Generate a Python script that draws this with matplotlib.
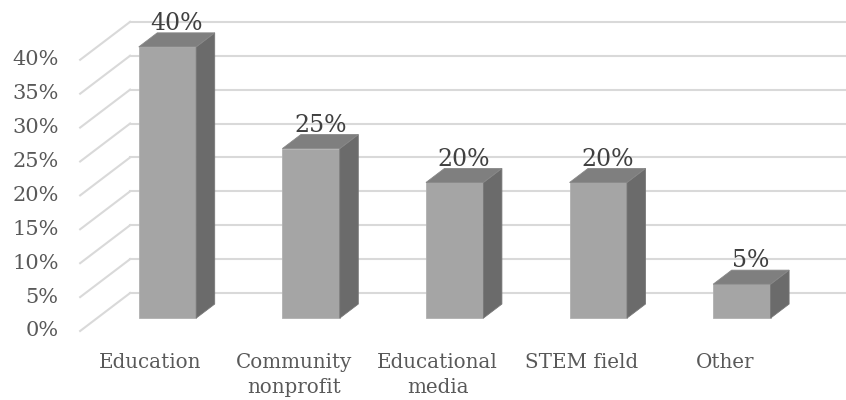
import numpy as np
import matplotlib.pyplot as plt
from matplotlib.patches import Polygon

categories = ['Education', 'Community\nnonprofit', 'Educational\nmedia', 'STEM field', 'Other']
values = [40, 25, 20, 20, 5]
ticks = [0, 5, 10, 15, 20, 25, 30, 35, 40]

# oblique 3d look: full depth shifts by (ddx categories, ddy percent)
ddx = 0.348
ddy = 5.6
d_front = 0.34
d_back = 0.71
half_w = 0.2
left = -0.49

face_c = '#A5A5A5'
side_c = '#6B6B6B'
top_c = '#7F7F7F'
grid_c = '#D9D9D9'
text_c = '#595959'

plt.rcParams['font.family'] = ['DejaVu Serif']

fig = plt.figure(figsize=(8.46, 4.0), dpi=100)
ax = fig.add_axes([0, 0, 1, 1])
ax.set_xlim((0 - 150.5) / 143.6, (846 - 150.5) / 143.6)
ax.set_ylim((331 - 400) / 6.78, 331 / 6.78)
ax.axis('off')

# walls: back gridlines and diagonal side lines
for t in ticks:
    ax.plot([left, left + ddx], [t, t + ddy], color=grid_c, lw=1.5, zorder=1)
    ax.plot([left + ddx, 10], [t + ddy, t + ddy], color=grid_c, lw=1.5, zorder=1)
    ax.text(left - 0.15, t, f'{t}%', ha='right', va='center',
            fontsize=15, color=text_c)


def bar3d(i, v):
    x0 = i - half_w + d_front * ddx
    x1 = i + half_w + d_front * ddx
    y0 = d_front * ddy
    y1 = v + d_front * ddy
    ox = (d_back - d_front) * ddx
    oy = (d_back - d_front) * ddy
    front = Polygon([(x0, y0), (x1, y0), (x1, y1), (x0, y1)], closed=True,
                    fc=face_c, ec='#B0B0B0', lw=0.6, zorder=3)
    side = Polygon([(x1, y0), (x1 + ox, y0 + oy), (x1 + ox, y1 + oy), (x1, y1)],
                   closed=True, fc=side_c, ec='#777777', lw=0.6, zorder=3)
    top = Polygon([(x0, y1), (x1, y1), (x1 + ox, y1 + oy), (x0 + ox, y1 + oy)],
                  closed=True, fc=top_c, ec='#888888', lw=0.6, zorder=3)
    for p in (front, side, top):
        ax.add_patch(p)
    mid = (d_front + d_back) / 2
    ax.annotate(f'{v}%', (i + mid * ddx, v + d_back * ddy), xytext=(0, -1.5),
                textcoords='offset points', ha='center', va='bottom',
                fontsize=17, color='#404040', zorder=4)


for i, v in enumerate(values):
    bar3d(i, v)

for i, c in enumerate(categories):
    ax.text(i, -3.2, c, ha='center', va='top', fontsize=14.3, color=text_c,
            linespacing=1.42)

fig.savefig('out.png', dpi=100)
